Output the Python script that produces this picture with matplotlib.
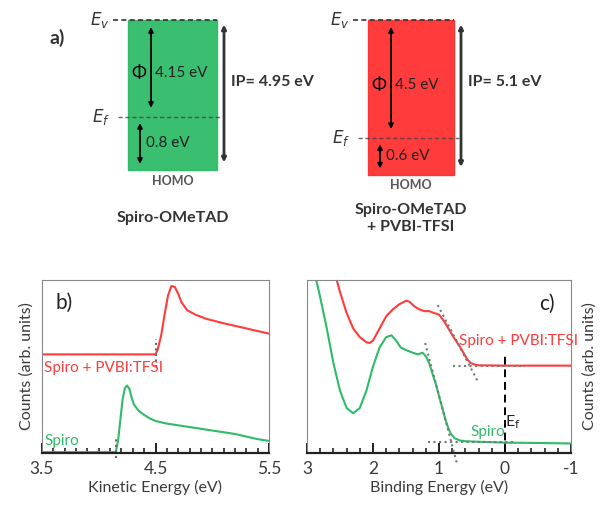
import matplotlib.pyplot as plt
from matplotlib.patches import Rectangle
from matplotlib.ticker import MultipleLocator

plt.rcParams["font.family"] = ["Lato", "DejaVu Sans"]
plt.rcParams["mathtext.fontset"] = "dejavusans"
plt.rcParams["axes.unicode_minus"] = False

GREEN = "#2fbb68"
RED = "#ff3b3b"
TXT = "#3a3a3a"

# panel a: energy levels (eV below vacuum level)
names = ["Spiro-OMeTAD", "Spiro-OMeTAD\n+ PVBI-TFSI"]
work_fn = [4.15, 4.5]
homo_gap = [0.8, 0.6]
ion_pot = [4.95, 5.1]
ef_drawn = [3.2, 3.9]  # schematic depth of E_f as drawn

# panel b: secondary electron cut-off
ke_spiro = [3.50, 4.15, 4.17, 4.19, 4.21, 4.23, 4.25, 4.27, 4.29, 4.31, 4.35,
            4.40, 4.45, 4.50, 4.60, 4.70, 4.80, 4.90, 5.00, 5.10, 5.20, 5.30,
            5.40, 5.50]
cnt_spiro = [0.005, 0.005, 0.07, 0.19, 0.31, 0.375, 0.39, 0.37, 0.32, 0.28,
             0.245, 0.22, 0.20, 0.185, 0.17, 0.16, 0.15, 0.14, 0.13, 0.12,
             0.11, 0.095, 0.08, 0.07]
ke_dop = [3.50, 4.50, 4.52, 4.55, 4.58, 4.61, 4.64, 4.67, 4.70, 4.73, 4.78,
          4.85, 4.95, 5.10, 5.20, 5.30, 5.40, 5.50]
cnt_dop = [0.57, 0.57, 0.60, 0.68, 0.80, 0.91, 0.965, 0.96, 0.92, 0.87, 0.825,
           0.80, 0.775, 0.75, 0.735, 0.72, 0.705, 0.69]
cutoff = [4.15, 4.50]

# panel c: valence band region
be_spiro = [2.86, 2.80, 2.70, 2.60, 2.50, 2.40, 2.30, 2.20, 2.10, 2.00, 1.90,
            1.80, 1.72, 1.65, 1.58, 1.50, 1.40, 1.32, 1.25, 1.20, 1.15, 1.10,
            1.05, 1.00, 0.95, 0.90, 0.86, 0.82, 0.76, 0.68, 0.60, 0.40, 0.00,
            -0.50, -1.00]
vb_spiro = [1.00, 0.90, 0.72, 0.52, 0.36, 0.26, 0.23, 0.26, 0.36, 0.50, 0.61,
            0.67, 0.68, 0.65, 0.61, 0.595, 0.58, 0.57, 0.58, 0.56, 0.52, 0.46,
            0.40, 0.33, 0.26, 0.19, 0.145, 0.11, 0.085, 0.072, 0.068, 0.065,
            0.06, 0.058, 0.055]
be_dop = [2.55, 2.50, 2.40, 2.30, 2.20, 2.10, 2.05, 2.00, 1.90, 1.80, 1.70,
          1.60, 1.50, 1.45, 1.38, 1.30, 1.22, 1.15, 1.08, 1.00, 0.92, 0.85,
          0.78, 0.70, 0.63, 0.57, 0.52, 0.45, 0.40, 0.00, -1.00]
vb_dop = [1.00, 0.93, 0.81, 0.72, 0.67, 0.64, 0.636, 0.65, 0.72, 0.79, 0.83,
          0.86, 0.88, 0.875, 0.85, 0.83, 0.82, 0.82, 0.81, 0.80, 0.76, 0.715,
          0.67, 0.625, 0.58, 0.54, 0.52, 0.51, 0.507, 0.505, 0.505]
tan_spiro = ([1.21, 0.73], [0.636, -0.058])
tan_dop = ([1.02, 0.42], [0.855, 0.42])
base_spiro = ([1.17, -0.15], [0.062, 0.062])
base_dop = ([0.79, -0.30], [0.505, 0.505])

fig = plt.figure(figsize=(6.01, 5.09), dpi=100)

# ---------------- panel a ----------------
ax = fig.add_axes([0, 1 - 240 / 509, 1, 240 / 509])
ax.set_xlim(0, 601)
ax.set_ylim(7.26, -0.66)
ax.axis("off")

box_x = [128, 368]
box_w = [89, 86]
colors = [GREEN, "#ff3030"]
for i in range(2):
    x0, w = box_x[i], box_w[i]
    ax.add_patch(Rectangle((x0, 0), w, ion_pot[i], facecolor=colors[i],
                           edgecolor=colors[i], lw=1, alpha=0.95))
    ax.hlines(0, x0 - 15, x0 + w, colors="#333333", linestyles=(0, (3, 2)), lw=1.2)
    ax.hlines(ef_drawn[i], x0 - 10, x0 + w + 5, colors="#444444",
              linestyles=(0, (3, 2)), lw=1.0, alpha=0.8)
    ax.text(x0 - 18, 0, "$E_v$", ha="right", va="center", fontsize=12,
            color="#333333")
    ax.text(x0 - 18, ef_drawn[i], "$E_f$", ha="right", va="center", fontsize=12,
            color="#333333")

    # work function arrow
    xa = x0 + 23
    ax.annotate("", xy=(xa, 0.23), xytext=(xa, ef_drawn[i] - 0.3),
                arrowprops=dict(arrowstyle="<|-|>", color="black", lw=1.3,
                                mutation_scale=7, shrinkA=0, shrinkB=0))
    ymid = ef_drawn[i] * 0.55
    ax.text(xa - 5, ymid, "\u03a6", ha="right", va="center", fontsize=13,
            color="black")
    ax.text(xa + 4, ymid, f"{work_fn[i]} eV", ha="left", va="center",
            fontsize=11, color="#222222")

    # Ef to HOMO arrow
    xh = x0 + 12
    ax.annotate("", xy=(xh, ef_drawn[i] + 0.2), xytext=(xh, ion_pot[i] - 0.2),
                arrowprops=dict(arrowstyle="<|-|>", color="black", lw=1.3,
                                mutation_scale=7, shrinkA=0, shrinkB=0))
    ax.text(xh + 6, (ef_drawn[i] + ion_pot[i]) / 2, f"{homo_gap[i]} eV",
            ha="left", va="center", fontsize=11, color="#222222")

    # ionisation potential arrow
    xi = x0 + w + 7
    ax.annotate("", xy=(xi, 0.15), xytext=(xi, ion_pot[i] - 0.25),
                arrowprops=dict(arrowstyle="<|-|>", color="#333333", lw=2.0,
                                mutation_scale=6, shrinkA=0, shrinkB=0))
    ax.text(xi + 7, 2.05, f"IP= {ion_pot[i]} eV", ha="left", va="center",
            fontsize=11.5, fontweight="bold", color="#333333")

    ax.text(x0 + w / 2, ion_pot[i] + 0.36, "HOMO", ha="center", va="center",
            fontsize=9, fontweight="bold", color="#555555")
    ax.text(x0 + w / 2, 6.55, names[i], ha="center", va="center",
            fontsize=11.5, fontweight="bold", color="#333333", linespacing=1.2)

ax.text(50, 0.6, "a)", ha="left", va="center", fontsize=14, fontweight="bold",
        color="#333333")


def style_axes(a):
    a.set_ylim(0, 1)
    a.set_yticks([])
    for s in ["left", "right", "top"]:
        a.spines[s].set_color("#888888")
        a.spines[s].set_linewidth(0.8)
    a.spines["bottom"].set_color("#222222")
    a.spines["bottom"].set_linewidth(1.6)
    a.tick_params(axis="x", which="major", direction="in", length=7, width=1.4,
                  color="#222222", labelsize=12.5, labelcolor=TXT, pad=6)
    a.tick_params(axis="x", which="minor", direction="in", length=3.5,
                  width=1.2, color="#222222")


# ---------------- panel b ----------------
axb = fig.add_axes([42 / 601, 56 / 509, 227 / 601, 173 / 509])
axb.plot(ke_spiro, cnt_spiro, color=GREEN, lw=1.5)
axb.plot(ke_dop, cnt_dop, color=RED, lw=1.5)
axb.vlines(cutoff[0], -0.03, 0.10, colors="#666666", linestyles=":", lw=1.5,
           clip_on=False)
axb.vlines(cutoff[1], 0.50, 0.66, colors="#666666", linestyles=":", lw=1.5)
axb.set_xlim(3.5, 5.5)
axb.set_xticks([3.5, 4.5, 5.5])
axb.xaxis.set_minor_locator(MultipleLocator(0.1))
style_axes(axb)
axb.set_xlabel("Kinetic Energy (eV)", fontsize=11.5, color=TXT, labelpad=2)
axb.set_ylabel("Counts (arb. units)", fontsize=11.5, color=TXT, labelpad=6)
axb.text(0.01, 0.49, "Spiro + PVBI:TFSI", transform=axb.transAxes,
         color=RED, fontsize=11, ha="left", va="center")
axb.text(0.01, 0.07, "Spiro", transform=axb.transAxes, color=GREEN,
         fontsize=11, ha="left", va="center")
axb.text(0.06, 0.87, "b)", transform=axb.transAxes, fontsize=15, color="#222222",
         ha="left", va="center")

# ---------------- panel c ----------------
axc = fig.add_axes([307 / 601, 56 / 509, 264 / 601, 173 / 509])
axc.plot(be_spiro, vb_spiro, color=GREEN, lw=1.5)
axc.plot(be_dop, vb_dop, color=RED, lw=1.5)
for xs, ys in [tan_spiro, tan_dop, base_spiro, base_dop]:
    axc.plot(xs, ys, color="#777777", ls=":", lw=1.5, clip_on=False)
axc.vlines(0, 0, 0.58, colors="black", linestyles=(0, (4, 2.5)), lw=1.4)
axc.set_xlim(3, -1)
axc.set_xticks([3, 2, 1, 0, -1])
axc.xaxis.set_minor_locator(MultipleLocator(0.2))
style_axes(axc)
axc.set_xlabel("Binding Energy (eV)", fontsize=11.5, color=TXT, labelpad=2)
axc.yaxis.set_label_position("right")
axc.set_ylabel("Counts (arb. units)", fontsize=11.5, color=TXT, labelpad=8)
axc.text(0.0, 0.18, "E$_\\mathrm{f}$", color="#222222", fontsize=11.5,
         ha="left", va="center")
axc.text(0.69, 0.65, "Spiro + PVBI:TFSI", color=RED, fontsize=11,
         ha="left", va="center")
axc.text(0.53, 0.12, "Spiro", color=GREEN, fontsize=11, ha="left",
         va="center")
axc.text(0.88, 0.86, "c)", transform=axc.transAxes, fontsize=15,
         color="#222222", ha="left", va="center")

fig.savefig("out.png", dpi=100)
